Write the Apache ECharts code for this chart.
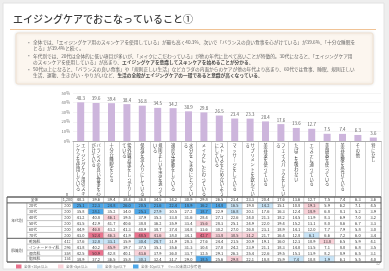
<!DOCTYPE html>
<html><head><meta charset="utf-8">
<script src="https://cdn.jsdelivr.net/npm/echarts@6/dist/echarts.min.js"></script>
<style>html,body{margin:0;padding:0;background:#eeeeee;}#c{width:389px;height:271px;}</style>
</head><body><div id="c"></div>
<script>
const titleText = 'エイジングケアでおこなっていること①';
const bullets = [
  '全体では、「エイジングケア用のスキンケアを使用している」が最も高く40.3%、次いで「バランスの良い食事を心がけている」が39.6%、「十分な睡眠をとる」が39.4%と続く。',
  '年代別では、20代は全体的に低い項目が多いが、「メイクにこだわっている」が他の年代に比べて高いことが特徴的。30代になると、「エイジングケア用のスキンケアを使用している」が高まり、{b|エイジングケアを意識してスキンケアを始めることが分かる。}',
  '50代以上になると、「バランスの良い食事」や「規則正しい生活」などカラダの内面からのケアが他の年代より高まり、60代では食事、睡眠、規則正しい生活、運動、生きがい・やりがいなど、{b|生活の全般がエイジングケアの一環であると意識が高くなっている。}'
];
const categories = [
  'エイジングケア用のスキンケアを使用している','バランスの良い食事を心がけている','十分な睡眠をとる',
  '紫外線対策をしっかりしている','保湿を念入りにしている','規則正しい生活を送っている','適度な運動をしている',
  '水分をこまめにとっている','メイクにこだわっている','ストレスをためないようにしている','マッサージをしている',
  'サプリメントを飲んでいる','美容液を使っている','フェイスパックをしている','たばこを吸わない',
  'エステに通っている','美顔器を使っている','美容医療を受けている','その他','特になし'
];
const totalValues = [40.3,39.6,39.4,38.4,36.8,34.5,34.2,30.9,29.8,26.5,23.4,23.3,20.4,17.6,13.6,12.7,7.5,7.4,6.3,3.6];
const yTickValues = [0,10,20,30,40,50];
const groupLabels = ['年代別','肌質別'];
const groupSizes = [6,4];
const rowLabels = ['20代','30代','40代','50代','60代','70代','乾燥肌','インナードライ肌','混合肌','脂性肌'];
const totalN = '1,200';
const rowN = ['200','200','200','200','200','200','412','296','358','134'];
const r20s = [25.1,22.3,24.8,26.0,20.5,21.6,22.4,18.9,16.2,14.8,16.5,19.8,14.2,15.1,10.8,19.3,5.9,6.2,7.1,4.5];
const r30s = [35.8,28.1,35.2,34.0,25.3,27.9,30.5,27.2,18.7,22.9,16.8,20.1,17.6,16.3,12.4,18.9,6.8,8.1,5.2,3.9];
const r40s = [41.2,40.8,46.1,39.5,37.9,35.3,33.8,31.6,28.4,27.1,22.6,24.0,21.3,18.2,14.5,11.9,8.3,6.9,7.0,3.2];
const r50s = [43.5,42.9,41.7,40.6,38.8,36.2,35.9,33.4,35.6,28.3,25.1,24.9,22.0,19.4,15.2,13.1,8.0,8.6,6.7,3.3];
const r60s = [44.9,46.8,43.2,41.3,40.9,38.7,37.4,34.8,33.6,30.2,27.0,26.8,23.1,18.9,14.1,12.0,7.7,7.9,5.8,3.0];
const r70s = [43.0,52.4,46.3,41.9,48.5,41.6,38.0,34.1,42.7,33.8,30.5,31.2,21.7,16.4,12.8,6.1,6.6,7.2,6.0,3.4];
const rDry = [37.6,32.8,33.1,35.9,30.4,28.7,31.9,28.3,27.6,24.4,21.5,20.9,19.1,16.0,12.3,10.9,13.8,6.5,5.9,4.1];
const rInner = [41.8,40.2,45.9,39.7,37.5,35.1,35.6,31.3,30.4,27.0,24.2,23.9,21.1,18.3,14.0,13.5,7.1,8.0,6.8,3.5];
const rMix = [42.5,50.9,42.8,40.1,43.6,37.9,36.0,33.7,32.5,29.1,26.3,25.4,22.6,19.5,15.3,13.9,8.2,8.9,6.5,3.1];
const rOily = [38.9,37.2,36.5,35.8,30.1,32.4,31.7,29.0,18.5,25.6,29.8,22.1,18.8,15.9,7.4,10.8,1.9,6.1,5.5,4.0];
const legendLabels = ['全体+10pt以上','全体+5pt以上','全体-5pt以下','全体-10pt以下　※n=30未満は参考値'];

const FONT = '"Noto Sans CJK JP","Noto Sans",sans-serif';
const C_DPINK = '#e9728d', C_LPINK = '#f9d2d9', C_LBLUE = '#c8e4f7', C_DBLUE = '#4ea8ea';
const tableRows = [totalValues, r20s, r30s, r40s, r50s, r60s, r70s, rDry, rInner, rMix, rOily];
const rowNames = ['全体'].concat(rowLabels);

function flag(v, t){ const d = v - t; if (d >= 10) return 2; if (d >= 5) return 1; if (d <= -10) return -2; if (d <= -5) return -1; return 0; }
const heatData = [];
tableRows.forEach((row, r) => row.forEach((v, c) => heatData.push([c, r, v, r === 0 ? 0 : flag(v, totalValues[c])])));

function vert(s){
  s = s.replace(/ー/g, '｜');
  const per = 11, chunks = [];
  for (let i = 0; i < s.length; i += per) chunks.push(s.slice(i, i + per));
  chunks.reverse();
  const n = Math.max(...chunks.map(c => c.length));
  const lines = [];
  for (let k = 0; k < n; k++) lines.push(chunks.map(c => c[k] || '　').join(' '));
  return lines.join('\n');
}

// layout constants
const GL = 73, GR = 8, TT = 197, TH = 65, NR = 11, RH = TH / NR;
const XL = 7, XG = 27, XN = 62, XR = 389 - GR;
const g = [];
g.push({type:'rect', z:-10, shape:{x:3,y:3,width:381,height:266}, style:{fill:'#fff', stroke:'#e2e2e2', lineWidth:1}});
g.push({type:'text', x:13, y:19, style:{text:titleText, font:'500 10px ' + FONT, fill:'#3c3c3c', verticalAlign:'middle'}});
g.push({type:'line', shape:{x1:10,y1:29.5,x2:376,y2:29.5}, style:{stroke:'#f0c396', lineWidth:1}});
g.push({type:'rect', z:-5, shape:{x:16,y:33,width:357,height:51,r:2}, style:{fill:'#fcf6ef', stroke:'#f1e2d2', lineWidth:1, shadowBlur:3, shadowColor:'rgba(0,0,0,0.12)'}});
let by = 39.5;
bullets.forEach((b) => {
  g.push({type:'text', x:28, y:by, style:{text:'•', font:'5px ' + FONT, fill:'#888'}});
  g.push({type:'text', x:33, y:by, style:{text:b, width:328, overflow:'break', font:'4.7px ' + FONT, fill:'#666', lineHeight:6,
    rich:{b:{font:'bold 4.7px ' + FONT, fill:'#4a4a4a', lineHeight:6}}}});
  by += 13.5;
});
// left part of table
function cell(x1, x2, r1, r2, text, align){
  const y1 = TT + r1 * RH, y2 = TT + r2 * RH;
  g.push({type:'rect', shape:{x:x1,y:y1,width:x2-x1,height:y2-y1}, style:{fill:'#fff', stroke:'#a8a8a8', lineWidth:0.5}});
  g.push({type:'text', x: align === 'left' ? x1 + 2 : (x1 + x2) / 2, y:(y1 + y2) / 2,
    style:{text:text, font:'3.8px ' + FONT, fill:'#444', align: align || 'center', verticalAlign:'middle'}});
}
cell(XL, XN, 0, 1, '全体');
cell(XN, GL, 0, 1, totalN);
let rr = 1;
groupLabels.forEach((gl, gi) => {
  cell(XL, XG, rr, rr + groupSizes[gi], gl);
  for (let k = 0; k < groupSizes[gi]; k++) {
    cell(XG, XN, rr + k, rr + k + 1, rowLabels[rr + k - 1], 'left');
    cell(XN, GL, rr + k, rr + k + 1, rowN[rr + k - 1]);
  }
  rr += groupSizes[gi];
});
g.push({type:'text', x:67, y:194, style:{text:'n', font:'4px ' + FONT, fill:'#555', align:'center', verticalAlign:'middle'}});
[0,1,7,11].forEach((r) => g.push({type:'line', z:50, shape:{x1:XL,y1:TT + r * RH,x2:XR,y2:TT + r * RH}, style:{stroke:'#555', lineWidth:0.8}}));
g.push({type:'rect', z:50, shape:{x:XL,y:TT,width:XR-XL,height:TH}, style:{fill:'none', stroke:'#555', lineWidth:0.8}});
// legend
const legendColors = [C_DPINK, C_LPINK, C_LBLUE, C_DBLUE];
const legendX = [16, 58, 97, 133];
legendLabels.forEach((t, i) => {
  g.push({type:'rect', shape:{x:legendX[i], y:264.5, width:5.5, height:4}, style:{fill:legendColors[i]}});
  g.push({type:'text', x:legendX[i] + 8, y:266.5, style:{text:t, font:'3.6px ' + FONT, fill:'#777', verticalAlign:'middle'}});
});
g.push({type:'text', x:378, y:264, style:{text:'12', font:'3.6px ' + FONT, fill:'#888', align:'center', verticalAlign:'middle'}});

const chart = echarts.init(document.getElementById('c'), null, {renderer:'canvas'});
chart.setOption({
  animation:false,
  textStyle:{fontFamily:FONT},
  graphic:{elements:g},
  grid:[{left:GL, right:GR, top:93, height:48}, {left:GL, right:GR, top:TT, height:TH}],
  xAxis:[
    {type:'category', gridIndex:0, data:categories,
     axisLine:{lineStyle:{color:'#999', width:0.8}},
     axisTick:{show:true, interval:0, length:56, lineStyle:{color:'#a8a8a8', width:0.5}},
     axisLabel:{interval:0, margin:2, fontSize:4.2, lineHeight:4.8, color:'#444', formatter:vert, fontFamily:FONT}},
    {type:'category', gridIndex:1, data:categories, show:false}
  ],
  yAxis:[
    {type:'value', gridIndex:0, min:yTickValues[0], max:yTickValues[yTickValues.length-1], interval:10,
     axisLabel:{fontSize:4.2, color:'#777', margin:3, formatter:'{value}%'},
     splitLine:{lineStyle:{color:'#e8e8e8', width:0.5}}, axisLine:{show:false}, axisTick:{show:false}},
    {type:'category', gridIndex:1, data:rowNames, inverse:true, show:false}
  ],
  visualMap:{type:'piecewise', show:false, seriesIndex:1, dimension:3,
    pieces:[{value:2,color:C_DPINK},{value:1,color:C_LPINK},{value:0,color:'#ffffff'},{value:-1,color:C_LBLUE},{value:-2,color:C_DBLUE}]},
  series:[
    {type:'bar', xAxisIndex:0, yAxisIndex:0, data:totalValues, barWidth:7,
     itemStyle:{color:'#cdb5dc'},
     label:{show:true, position:'top', distance:2, fontSize:4.4, color:'#595959', formatter:p => p.value.toFixed(1)}},
    {type:'heatmap', xAxisIndex:1, yAxisIndex:1, data:heatData,
     itemStyle:{borderColor:'#b0b0b0', borderWidth:0.5},
     label:{show:true, fontSize:4, color:'#333', formatter:p => p.value[2].toFixed(1)},
     emphasis:{disabled:true}}
  ]
});
</script>
</body></html>
